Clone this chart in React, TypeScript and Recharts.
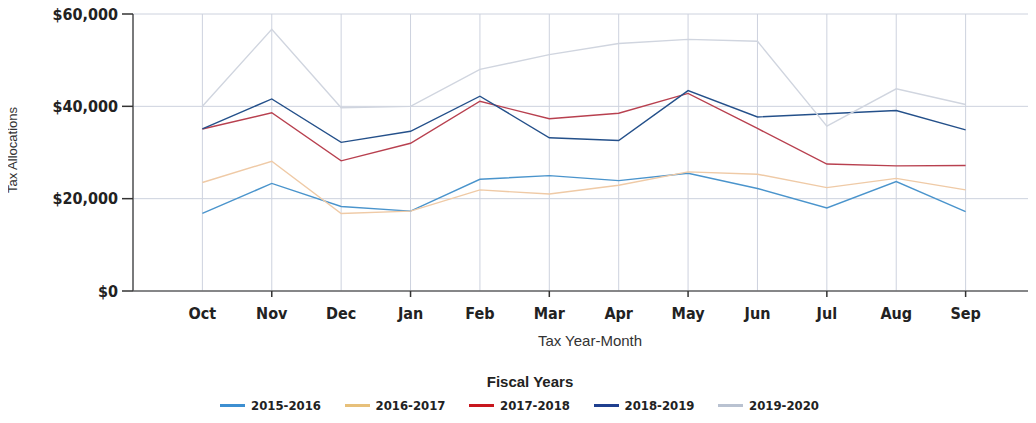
import React from 'react';
import { LineChart, Line, XAxis, YAxis, CartesianGrid } from 'recharts';

const months = ['Oct', 'Nov', 'Dec', 'Jan', 'Feb', 'Mar', 'Apr', 'May', 'Jun', 'Jul', 'Aug', 'Sep'];

const fy2015 = [16800, 23300, 18300, 17300, 24200, 25000, 23900, 25500, 22200, 18000, 23700, 17200];
const fy2016 = [23500, 28100, 16800, 17300, 21900, 21000, 22900, 25800, 25300, 22400, 24400, 21900];
const fy2017 = [35100, 38600, 28200, 32000, 41100, 37300, 38500, 42800, 35200, 27500, 27100, 27200];
const fy2018 = [35100, 41600, 32200, 34600, 42200, 33200, 32600, 43400, 37700, 38400, 39100, 34900];
const fy2019 = [40000, 56700, 39700, 40000, 48000, 51200, 53600, 54500, 54100, 35700, 43800, 40400];

const yTicks = [0, 20000, 40000, 60000];

const series = [
  { key: 'fy2015', name: '2015-2016', values: fy2015, color: '#4a94cc', legend: '#3d8fd1' },
  { key: 'fy2016', name: '2016-2017', values: fy2016, color: '#efcaa6', legend: '#e7c07a' },
  { key: 'fy2017', name: '2017-2018', values: fy2017, color: '#b8404f', legend: '#c8171e' },
  { key: 'fy2018', name: '2018-2019', values: fy2018, color: '#24508a', legend: '#1f3f8f' },
  { key: 'fy2019', name: '2019-2020', values: fy2019, color: '#d0d5df', legend: '#b9c2d1' },
];

// one row per month, x is the month's position (1..12) on a 0..13 axis
const data = months.map((m, i) => {
  const row: Record<string, number | string> = { x: i + 1, month: m };
  series.forEach((s) => {
    row[s.key] = s.values[i];
  });
  return row;
});

const tickFont = "'DejaVu Sans Condensed', 'DejaVu Sans', sans-serif";

const fmtMoney = (v: number) => '$' + v.toLocaleString('en-US');

const MonthTick = (props: any) => {
  const { x, y, payload } = props;
  const idx = payload.value as number;
  const top = y - 8;
  return (
    <g>
      {idx % 2 === 0 && <line x1={x} y1={top} x2={x} y2={top + 6} stroke="#333" strokeWidth={1.5} />}
      <text x={x} y={top + 28} textAnchor="middle" fontFamily={tickFont} fontWeight="bold" fontSize={16} fill="#222">
        {months[idx - 1]}
      </text>
    </g>
  );
};

const App: React.FC = () => {
  return (
    <div style={{ position: 'relative', width: 1036, height: 423, margin: -8, background: '#fff' }}>
      <LineChart width={1036} height={423} data={data} margin={{ top: 14, right: 1, bottom: 72, left: 0 }}>
        <CartesianGrid stroke="#cdd2de" strokeWidth={1} />
        <XAxis
          dataKey="x"
          type="number"
          domain={[0, 13]}
          ticks={[1, 2, 3, 4, 5, 6, 7, 8, 9, 10, 11, 12]}
          tickLine={false}
          tickSize={6}
          tickMargin={2}
          height={60}
          axisLine={{ stroke: '#666', strokeWidth: 1.5 }}
          tick={<MonthTick />}
          label={{
            content: () => (
              <text x={590} y={346} textAnchor="middle" fontFamily="'Liberation Sans Narrow', 'Liberation Sans', sans-serif" fontSize={15} fill="#333">
                Tax Year-Month
              </text>
            ),
          }}
        />
        <YAxis
          width={133}
          domain={[0, 60000]}
          ticks={yTicks}
          tickFormatter={fmtMoney}
          tickSize={11}
          tickMargin={4}
          axisLine={{ stroke: '#555', strokeWidth: 1.5 }}
          tickLine={{ stroke: '#333', strokeWidth: 1.5 }}
          tick={{ fontFamily: tickFont, fontWeight: 'bold', fontSize: 16, fill: '#222' }}
          label={{
            content: () => (
              <text x={17} y={150} transform="rotate(-90 17 150)" textAnchor="middle" fontFamily="'Liberation Sans', Arial, sans-serif" fontSize={13} fill="#333">
                Tax Allocations
              </text>
            ),
          }}
        />
        {series.map((s) => (
          <Line
            key={s.key}
            type="linear"
            dataKey={s.key}
            name={s.name}
            stroke={s.color}
            strokeWidth={1.4}
            dot={false}
            activeDot={false}
            isAnimationActive={false}
          />
        ))}
      </LineChart>
      <div
        style={{
          position: 'absolute',
          left: 430,
          width: 200,
          top: 373,
          textAlign: 'center',
          fontFamily: "'Liberation Sans Narrow', 'Liberation Sans', sans-serif",
          fontWeight: 'bold',
          fontSize: 15,
          color: '#222',
        }}
      >
        Fiscal Years
      </div>
      <div style={{ position: 'absolute', left: 220, top: 398, display: 'flex' }}>
        {series.map((s) => (
          <div key={s.key} style={{ width: 124.5, display: 'flex', alignItems: 'center' }}>
            <span style={{ display: 'inline-block', width: 25, height: 3, background: s.legend, marginRight: 6 }} />
            <span style={{ fontFamily: tickFont, fontWeight: 'bold', fontSize: 13, color: '#222' }}>{s.name}</span>
          </div>
        ))}
      </div>
    </div>
  );
};

export default App;
